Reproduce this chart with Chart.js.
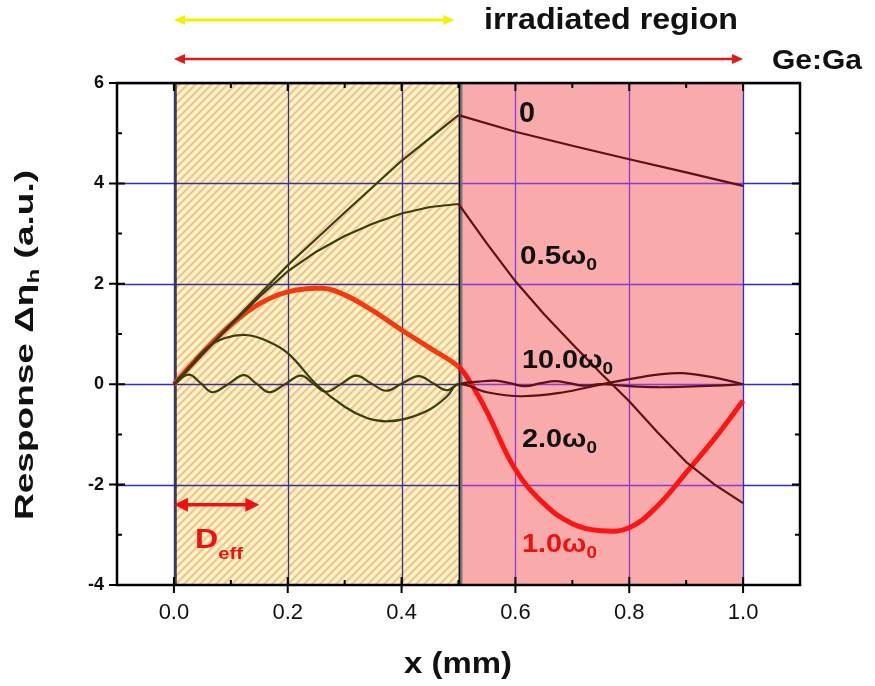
<!DOCTYPE html>
<html lang="en">
<head>
<meta charset="UTF-8">
<title>Response along x</title>
<script src="https://cdn.jsdelivr.net/npm/chart.js@4.4.0/dist/chart.umd.min.js"></script>
<style>
  body { margin: 0; background: #fff; }
</style>
</head>
<body>
<canvas id="responseChart" width="875" height="686"></canvas>
<script>
// axis ticks
const xTicks = [0, 0.2, 0.4, 0.6, 0.8, 1.0];
const xTickLabels = ['0.0', '0.2', '0.4', '0.6', '0.8', '1.0'];
const xMinorTicks = [0.1, 0.3, 0.5, 0.7, 0.9];
const yTicks = [-4, -2, 0, 2, 4, 6];
const yTickLabels = ['-4', '-2', '0', '2', '4', '6'];
const yMinorTicks = [-3, -1, 1, 3, 5];

// regions (mm)
const irradiatedRange = [0, 0.5];
const sampleRange = [0, 1.0];
const darkRange = [0.5, 1.0];
const deffRange = [0, 0.15];

// omega = 0
const w0X = [0, 0.1, 0.2, 0.3, 0.4, 0.5, 0.6, 0.7, 0.8, 0.9, 1.0];
const w0Y = [0, 1.2, 2.37, 3.42, 4.45, 5.36, 5.03, 4.75, 4.48, 4.22, 3.95];

// omega = 0.5 w0
const w05X = [0, 0.05, 0.1, 0.15, 0.2, 0.25, 0.3, 0.35, 0.4, 0.45, 0.5, 0.55, 0.6, 0.65, 0.7, 0.75, 0.8, 0.85, 0.9, 0.95, 1.0];
const w05Y = [0, 0.6, 1.18, 1.74, 2.25, 2.64, 2.95, 3.2, 3.4, 3.53, 3.59, 2.8, 2.05, 1.4, 0.8, 0.22, -0.34, -0.96, -1.55, -2.0, -2.37];

// omega = 1.0 w0 (red)
const w1X = [0, 0.05, 0.1, 0.15, 0.2, 0.26, 0.3, 0.35, 0.4, 0.45, 0.5, 0.52, 0.55, 0.6, 0.65, 0.7, 0.75, 0.8, 0.85, 0.9, 0.95, 1.0];
const w1Y = [0, 0.62, 1.18, 1.6, 1.84, 1.91, 1.78, 1.46, 1.08, 0.72, 0.35, 0.05, -0.55, -1.7, -2.38, -2.78, -2.92, -2.86, -2.42, -1.76, -1.08, -0.33];

// omega = 2.0 w0
const w2X = [0, 0.03, 0.06, 0.09, 0.126, 0.16, 0.2, 0.25, 0.3, 0.34, 0.373, 0.41, 0.45, 0.48, 0.5, 0.55, 0.61, 0.68, 0.753, 0.8, 0.85, 0.894, 0.95, 1.0];
const w2Y = [0, 0.38, 0.74, 0.92, 0.98, 0.88, 0.62, 0.0, -0.45, -0.68, -0.74, -0.68, -0.5, -0.24, 0, -0.16, -0.24, -0.17, 0.0, 0.1, 0.19, 0.22, 0.13, 0];

// omega = 10.0 w0
const w10X = [0, 0.026, 0.047, 0.068, 0.095, 0.123, 0.145, 0.168, 0.195, 0.223, 0.245, 0.267, 0.293, 0.32, 0.346, 0.373, 0.4, 0.43, 0.455, 0.479, 0.5,
              0.535, 0.565, 0.59, 0.617, 0.645, 0.67, 0.695, 0.72, 0.75, 0.8, 0.85, 0.9, 0.95, 1.0];
const w10Y = [0, 0.19, 0.02, -0.16, 0.0, 0.18, 0.01, -0.16, 0.0, 0.17, 0.01, -0.15, 0.0, 0.17, 0.02, -0.13, 0.01, 0.16, 0.02, -0.12, 0,
              0.05, 0.07, 0.02, -0.04, 0.02, 0.06, 0.02, -0.03, 0.0, -0.04, -0.06, -0.05, -0.03, 0];

const FONT = '"Liberation Sans", Arial, sans-serif';
const OLIVE = '#3c3c10';
const MAROON = '#5c1212';

function toPoints(xs, ys) {
    return xs.map((x, i) => ({ x: x, y: ys[i] }));
}

function thinSeries(xs, ys, tension) {
    return {
        data: toPoints(xs, ys),
        borderColor: OLIVE,
        borderWidth: 2.2,
        pointRadius: 0,
        tension: tension,
        segment: {
            borderColor: c => c.p0.parsed.x < 0.4999 ? OLIVE : MAROON
        }
    };
}

function drawRich(ctx, parts, x, y, width, color, angle) {
    ctx.save();
    ctx.fillStyle = color;
    ctx.textAlign = 'left';
    ctx.textBaseline = 'alphabetic';
    let natural = 0;
    parts.forEach(p => { ctx.font = p.font; natural += ctx.measureText(p.text).width; });
    ctx.translate(x, y);
    if (angle) ctx.rotate(angle);
    ctx.scale(width / natural, 1);
    let cx = 0;
    parts.forEach(p => {
        ctx.font = p.font;
        ctx.fillText(p.text, cx, p.dy || 0);
        cx += ctx.measureText(p.text).width;
    });
    ctx.restore();
}

function drawArrow(ctx, x1, x2, y, color, lw, headLen, headHalf) {
    ctx.save();
    ctx.strokeStyle = color;
    ctx.fillStyle = color;
    ctx.lineWidth = lw;
    ctx.beginPath();
    ctx.moveTo(x1 + headLen - 2, y);
    ctx.lineTo(x2 - headLen + 2, y);
    ctx.stroke();
    ctx.beginPath();
    ctx.moveTo(x1, y);
    ctx.lineTo(x1 + headLen, y - headHalf);
    ctx.lineTo(x1 + headLen, y + headHalf);
    ctx.closePath();
    ctx.fill();
    ctx.beginPath();
    ctx.moveTo(x2, y);
    ctx.lineTo(x2 - headLen, y - headHalf);
    ctx.lineTo(x2 - headLen, y + headHalf);
    ctx.closePath();
    ctx.fill();
    ctx.restore();
}

function makeHatch(ctx) {
    const c = document.createElement('canvas');
    c.width = 8; c.height = 8;
    const g = c.getContext('2d');
    g.fillStyle = '#fffab8';
    g.fillRect(0, 0, 8, 8);
    g.strokeStyle = '#f2c3aa';
    g.lineWidth = 2.5;
    g.beginPath();
    g.moveTo(-2, 10); g.lineTo(10, -2);
    g.moveTo(-2, 2); g.lineTo(2, -2);
    g.moveTo(6, 10); g.lineTo(10, 6);
    g.stroke();
    return ctx.createPattern(c, 'repeat');
}

const backgroundPlugin = {
    id: 'regions',
    beforeDatasetsDraw(chart) {
        const ctx = chart.ctx;
        const xs = chart.scales.x, ys = chart.scales.y;
        const a = chart.chartArea;
        const hx0 = xs.getPixelForValue(irradiatedRange[0]);
        const hx1 = xs.getPixelForValue(irradiatedRange[1]);
        const px0 = xs.getPixelForValue(darkRange[0]);
        const px1 = xs.getPixelForValue(darkRange[1]);
        ctx.save();
        ctx.fillStyle = makeHatch(ctx);
        ctx.fillRect(hx0, a.top, hx1 - hx0, a.bottom - a.top);
        ctx.fillStyle = '#f9aaaa';
        ctx.fillRect(px0, a.top, px1 - px0, a.bottom - a.top);

        // grid, coloured by the region it crosses
        const zones = [
            [a.left, hx0, '#2a2ae0'],
            [hx0, hx1, '#34309c'],
            [px0, px1, '#8a3ad8'],
            [px1, a.right, '#2a2ae0']
        ];
        zones.forEach(z => {
            ctx.save();
            ctx.beginPath();
            ctx.rect(z[0] - 0.5, a.top, z[1] - z[0] + 1, a.bottom - a.top);
            ctx.clip();
            ctx.strokeStyle = z[2];
            ctx.lineWidth = 1.3;
            ctx.beginPath();
            xTicks.forEach(v => {
                const x = Math.round(xs.getPixelForValue(v)) + 0.5;
                ctx.moveTo(x, a.top); ctx.lineTo(x, a.bottom);
            });
            yTicks.forEach(v => {
                const y = Math.round(ys.getPixelForValue(v)) + 0.5;
                ctx.moveTo(a.left, y); ctx.lineTo(a.right, y);
            });
            ctx.stroke();
            ctx.restore();
        });

        // boundaries of the irradiated part
        ctx.strokeStyle = '#222';
        ctx.lineWidth = 1.5;
        ctx.beginPath();
        ctx.moveTo(hx0 + 2, a.top); ctx.lineTo(hx0 + 2, a.bottom);
        ctx.stroke();
        ctx.strokeStyle = '#7a7a7a';
        ctx.lineWidth = 4;
        ctx.beginPath();
        ctx.moveTo(hx1 + 2, a.top); ctx.lineTo(hx1 + 2, a.bottom);
        ctx.stroke();
        ctx.strokeStyle = '#111';
        ctx.lineWidth = 1.5;
        ctx.beginPath();
        ctx.moveTo(hx1 + 1, a.top); ctx.lineTo(hx1 + 1, a.bottom);
        ctx.stroke();
        ctx.restore();
    },
    afterDatasetsDraw(chart) {
        const ctx = chart.ctx;
        const xs = chart.scales.x, ys = chart.scales.y;
        const a = chart.chartArea;
        ctx.save();
        // frame
        ctx.strokeStyle = '#000';
        ctx.lineWidth = 2.5;
        ctx.strokeRect(a.left, a.top, a.right - a.left, a.bottom - a.top);
        // tick marks
        ctx.lineWidth = 2;
        ctx.beginPath();
        xTicks.forEach(v => {
            const x = xs.getPixelForValue(v);
            ctx.moveTo(x, a.bottom + 8); ctx.lineTo(x, a.bottom - 8);
            ctx.moveTo(x, a.top); ctx.lineTo(x, a.top + 8);
        });
        xMinorTicks.forEach(v => {
            const x = xs.getPixelForValue(v);
            ctx.moveTo(x, a.bottom); ctx.lineTo(x, a.bottom - 5);
            ctx.moveTo(x, a.top); ctx.lineTo(x, a.top + 5);
        });
        yTicks.forEach(v => {
            const y = ys.getPixelForValue(v);
            ctx.moveTo(a.left - 8, y); ctx.lineTo(a.left + 8, y);
            ctx.moveTo(a.right, y); ctx.lineTo(a.right - 8, y);
        });
        yMinorTicks.forEach(v => {
            const y = ys.getPixelForValue(v);
            ctx.moveTo(a.left, y); ctx.lineTo(a.left + 5, y);
            ctx.moveTo(a.right, y); ctx.lineTo(a.right - 5, y);
        });
        ctx.stroke();
        ctx.restore();

        const B = 'bold 26px ' + FONT;
        const S = 'bold 17px ' + FONT;
        const omega = (num, color, x, y, w) => drawRich(ctx, [
            { text: num, font: B }, { text: 'ω', font: B }, { text: '0', font: S, dy: 6 }
        ], x, y, w, color);

        drawRich(ctx, [{ text: '0', font: 'bold 29px ' + FONT }], 519, 122, 16, '#111');
        omega('0.5', '#111', 520, 264, 77);
        omega('10.0', '#111', 522, 368, 91);
        omega('2.0', '#111', 522, 447, 75);
        omega('1.0', '#f01010', 522, 552, 75);

        // D_eff marker
        const dy = ys.getPixelForValue(-2.4);
        drawArrow(ctx, xs.getPixelForValue(deffRange[0]), xs.getPixelForValue(deffRange[1]), dy, '#ee1111', 3.5, 14, 7);
        drawRich(ctx, [{ text: 'D', font: 'bold 27px ' + FONT }, { text: 'eff', font: S, dy: 11 }], 195, 548, 48, '#f01010');

        // region arrows above the plot
        drawArrow(ctx, xs.getPixelForValue(irradiatedRange[0]), xs.getPixelForValue(irradiatedRange[1]) - 4, 20, '#f2f200', 3, 11, 5);
        drawArrow(ctx, xs.getPixelForValue(sampleRange[0]), xs.getPixelForValue(sampleRange[1]), 59, '#e01818', 2.5, 11, 5);
        drawRich(ctx, [{ text: 'irradiated region', font: 'bold 30px ' + FONT }], 484, 29, 254, '#111');
        drawRich(ctx, [{ text: 'Ge:Ga', font: 'bold 27px ' + FONT }], 772, 69, 90, '#111');

        // axis titles
        drawRich(ctx, [{ text: 'x (mm)', font: 'bold 29px ' + FONT }], 404, 673, 108, '#111');
        drawRich(ctx, [
            { text: 'Response Δη', font: 'bold 26px ' + FONT },
            { text: 'h', font: 'bold 17px ' + FONT, dy: 6 },
            { text: ' (a.u.)', font: 'bold 26px ' + FONT }
        ], 33, 520, 350, '#111', -Math.PI / 2);
    }
};

const ctx = document.getElementById('responseChart');
new Chart(ctx, {
    type: 'line',
    data: {
        datasets: [
            thinSeries(w10X, w10Y, 0.4),
            thinSeries(w2X, w2Y, 0.4),
            thinSeries(w05X, w05Y, 0),
            thinSeries(w0X, w0Y, 0),
            {
                data: toPoints(w1X, w1Y),
                borderColor: '#ff1414',
                borderWidth: 5,
                pointRadius: 0,
                tension: 0.4,
                segment: {
                    borderColor: c => c.p0.parsed.x < 0.4999 ? '#f23a10' : '#ff1414'
                }
            }
        ]
    },
    options: {
        responsive: false,
        animation: false,
        layout: { padding: { top: 83, right: 75, left: 0, bottom: 0 } },
        plugins: {
            legend: { display: false },
            tooltip: { enabled: false }
        },
        scales: {
            x: {
                type: 'linear',
                min: -0.1,
                max: 1.1,
                grid: { display: false, drawTicks: false },
                border: { display: false },
                afterBuildTicks: s => { s.ticks = xTicks.map(v => ({ value: v })); },
                afterFit: s => { s.height = 101; },
                ticks: {
                    callback: (v, i) => xTickLabels[i],
                    font: { family: FONT, size: 22 },
                    color: '#111',
                    padding: 15,
                    maxRotation: 0,
                    autoSkip: false
                }
            },
            y: {
                type: 'linear',
                min: -4,
                max: 6,
                grid: { display: false, drawTicks: false },
                border: { display: false },
                afterBuildTicks: s => { s.ticks = yTicks.map(v => ({ value: v })); },
                afterFit: s => { s.width = 117; },
                ticks: {
                    callback: (v, i) => yTickLabels[i],
                    font: { family: FONT, size: 18, weight: 'bold' },
                    color: '#111',
                    padding: 13,
                    autoSkip: false
                }
            }
        }
    },
    plugins: [backgroundPlugin]
});
</script>
</body>
</html>
